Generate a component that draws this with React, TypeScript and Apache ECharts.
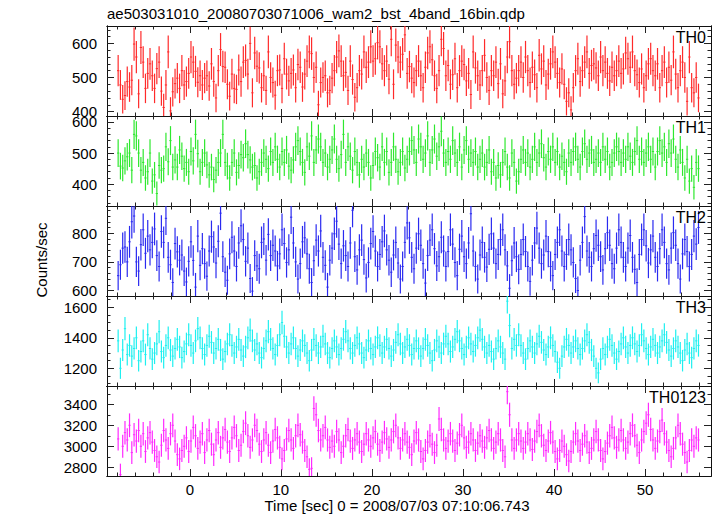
import { useEffect, useRef } from 'react';
import * as echarts from 'echarts';

const TITLE = 'ae503031010_20080703071006_wam2_bst_4band_16bin.qdp';
const X_LABEL = 'Time [sec] 0 = 2008/07/03 07:10:06.743';
const Y_LABEL = 'Counts/sec';

const T_START = -7.875;
const BIN = 0.25;
const X_MIN = -9.1;
const X_MAX = 57.25;
const X_MAJOR = [0, 10, 20, 30, 40, 50];
const X_MINOR = [-8, -6, -4, -2, 2, 4, 6, 8, 12, 14, 16, 18, 22, 24, 26, 28, 32, 34, 36, 38, 42, 44, 46, 48, 52, 54, 56];

const TH0 = [
  520, 478, 436, 447, 488, 472, 492, 598, 560, 452, 588, 545, 468, 512, 540, 505,
  468, 526, 545, 460, 412, 478, 575, 402, 458, 482, 498, 468, 520, 478, 488, 512,
  560, 545, 518, 486, 505, 478, 498, 505, 475, 540, 488, 440, 520, 582, 532, 530,
  480, 445, 510, 468, 465, 522, 488, 545, 550, 510, 600, 455, 572, 533, 528, 470,
  505, 462, 575, 500, 485, 448, 520, 522, 468, 555, 510, 490, 512, 522, 470, 538,
  530, 472, 510, 548, 575, 570, 500, 530, 420, 485, 500, 505, 455, 462, 498, 520,
  560, 578, 548, 505, 515, 462, 548, 494, 442, 470, 520, 510, 575, 530, 545, 590,
  548, 555, 602, 590, 540, 520, 548, 495, 612, 480, 595, 560, 545, 568, 625, 512,
  532, 498, 485, 520, 548, 505, 470, 530, 572, 590, 552, 505, 468, 520, 612, 585,
  505, 535, 480, 508, 555, 470, 520, 548, 538, 490, 512, 450, 575, 528, 505, 478,
  520, 565, 500, 462, 520, 505, 545, 482, 540, 452, 490, 560, 605, 520, 480, 498,
  520, 545, 500, 560, 520, 485, 530, 508, 470, 565, 525, 548, 478, 510, 540, 575,
  545, 512, 485, 525, 480, 430, 455, 405, 470, 520, 555, 488, 520, 545, 575, 512,
  535, 540, 528, 505, 560, 520, 545, 512, 490, 530, 505, 520, 548, 512, 525, 572,
  555, 530, 575, 520, 508, 485, 525, 470, 505, 540, 555, 520, 505, 540, 470, 520,
  545, 485, 530, 492, 575, 510, 470, 520, 545, 500, 430, 560, 470, 455, 500, 440,
];

const TH1 = [
  500, 458, 452, 475, 488, 500, 445, 560, 555, 500, 445, 470, 420, 440, 500, 410,
  430, 370, 460, 445, 450, 520, 472, 540, 455, 478, 455, 510, 490, 450, 470, 440,
  505, 475, 560, 498, 440, 470, 500, 462, 430, 455, 415, 445, 470, 500, 560, 470,
  458, 420, 470, 500, 438, 460, 495, 485, 530, 495, 478, 455, 460, 420, 440, 470,
  500, 480, 450, 505, 470, 520, 480, 455, 505, 470, 510, 458, 445, 478, 520, 540,
  505, 470, 438, 520, 490, 555, 470, 510, 545, 520, 470, 500, 455, 480, 510, 545,
  480, 450, 495, 560, 470, 520, 490, 445, 505, 470, 430, 480, 455, 500, 470, 420,
  460, 505, 485, 455, 520, 470, 505, 438, 470, 520, 480, 440, 470, 505, 452, 480,
  505, 540, 510, 470, 545, 520, 480, 500, 555, 470, 510, 545, 490, 520, 570, 500,
  470, 505, 480, 540, 500, 470, 520, 455, 510, 540, 480, 500, 470, 505, 455, 480,
  500, 455, 470, 510, 440, 470, 420, 460, 430, 470, 505, 455, 420, 500, 470, 410,
  440, 480, 510, 470, 500, 455, 480, 520, 470, 500, 530, 485, 455, 505, 480, 520,
  470, 505, 455, 490, 470, 440, 500, 470, 505, 520, 480, 455, 505, 530, 480, 500,
  510, 470, 480, 500, 470, 520, 480, 505, 455, 470, 500, 520, 505, 470, 500, 480,
  520, 490, 470, 505, 540, 480, 505, 470, 500, 520, 480, 505, 455, 505, 540, 500,
  520, 470, 530, 500, 545, 480, 455, 510, 470, 420, 480, 410, 450, 390, 470, 450,
];

const TH2 = [
  652, 690, 748, 752, 700, 770, 840, 860, 700, 668, 760, 812, 730, 790, 742, 768,
  815, 722, 684, 806, 768, 852, 716, 690, 628, 764, 735, 706, 724, 668, 630, 702,
  770, 705, 612, 790, 688, 746, 694, 650, 738, 788, 752, 696, 772, 870, 718, 664,
  636, 728, 786, 738, 684, 766, 826, 778, 702, 748, 642, 598, 722, 686, 676, 768,
  780, 706, 796, 722, 758, 738, 686, 728, 812, 764, 698, 742, 856, 766, 700, 640,
  694, 770, 784, 728, 676, 628, 704, 776, 738, 808, 716, 688, 612, 706, 748, 798,
  842, 762, 694, 756, 722, 684, 766, 880, 718, 672, 742, 776, 708, 644, 698, 764,
  806, 738, 684, 726, 770, 808, 742, 706, 664, 724, 768, 696, 640, 684, 768, 836,
  784, 716, 676, 748, 798, 758, 694, 626, 722, 776, 812, 746, 686, 718, 786, 738,
  684, 736, 812, 762, 698, 652, 744, 790, 718, 694, 766, 868, 738, 684, 640, 724,
  768, 716, 682, 744, 798, 748, 694, 726, 778, 812, 742, 686, 608, 704, 766, 718,
  674, 726, 778, 736, 684, 632, 706, 766, 818, 748, 694, 724, 790, 736, 684, 652,
  726, 768, 812, 738, 684, 726, 778, 742, 698, 642, 600, 706, 768, 858, 738, 716,
  684, 746, 792, 758, 718, 672, 746, 802, 758, 694, 676, 748, 812, 768, 716, 684,
  748, 792, 716, 674, 628, 726, 778, 812, 756, 696, 742, 790, 716, 684, 746, 812,
  768, 694, 672, 748, 802, 758, 694, 640, 728, 778, 736, 684, 726, 790, 762, 820,
];

const TH3 = [
  1380, 1200, 1320, 1460, 1290, 1350, 1280, 1330, 1400, 1250, 1310, 1380, 1290, 1420, 1330, 1260,
  1300, 1360, 1440, 1310, 1270, 1350, 1400, 1320, 1280, 1330, 1390, 1340, 1270, 1310, 1360, 1420,
  1350, 1300, 1380, 1460, 1400, 1330, 1290, 1350, 1410, 1370, 1300, 1330, 1390, 1320, 1260, 1310,
  1360, 1420, 1350, 1300, 1340, 1390, 1320, 1280, 1340, 1400, 1450, 1380, 1320, 1360, 1300, 1270,
  1330, 1380, 1440, 1390, 1330, 1290, 1350, 1420, 1500, 1410, 1340, 1300, 1360, 1400, 1330, 1280,
  1320, 1380, 1350, 1300, 1250, 1320, 1390, 1350, 1300, 1340, 1410, 1360, 1300, 1270, 1330, 1380,
  1340, 1290, 1330, 1390, 1440, 1380, 1330, 1300, 1350, 1400, 1360, 1300, 1270, 1320, 1380, 1330,
  1290, 1340, 1400, 1350, 1300, 1340, 1390, 1330, 1280, 1320, 1370, 1420, 1360, 1300, 1340, 1390,
  1350, 1290, 1330, 1380, 1330, 1280, 1330, 1390, 1350, 1300, 1250, 1320, 1380, 1340, 1300, 1360,
  1410, 1360, 1310, 1340, 1390, 1440, 1380, 1330, 1290, 1340, 1400, 1360, 1310, 1350, 1400, 1450,
  1390, 1340, 1300, 1350, 1310, 1260, 1330, 1380, 1340, 1300, 1260, 1640, 1480, 1330, 1390, 1350,
  1420, 1350, 1300, 1260, 1330, 1380, 1340, 1300, 1360, 1410, 1370, 1320, 1290, 1340, 1400, 1350,
  1310, 1240, 1200, 1280, 1340, 1390, 1350, 1300, 1340, 1380, 1330, 1290, 1330, 1380, 1420, 1370,
  1320, 1280, 1200, 1170, 1260, 1330, 1290, 1340, 1390, 1350, 1300, 1260, 1310, 1360, 1400, 1340,
  1300, 1350, 1400, 1360, 1310, 1350, 1420, 1380, 1330, 1290, 1340, 1390, 1350, 1300, 1340, 1380,
  1420, 1370, 1320, 1280, 1330, 1380, 1340, 1300, 1250, 1320, 1360, 1300, 1270, 1330, 1380, 1350,
];

const TH0123 = [
  3070, 2730, 3000, 3130, 3060, 3200, 2940, 3110, 3050, 3150, 3000, 3120, 2950, 3080, 3130, 3040,
  2960, 2900, 2850, 3010, 3150, 3060, 2980, 3120, 3200, 3050, 2920, 2880, 2960, 3000, 3080, 2950,
  3050, 3180, 3100, 2980, 3040, 3120, 2940, 3060, 3150, 3020, 2920, 3060, 3130, 2990, 3080, 3160,
  3040, 2950, 3080, 3180, 3100, 2960, 3010, 3140, 3220, 3100, 2990, 3060, 3200, 3150, 3020, 2950,
  3060, 3130, 3010, 2940, 3050, 3160, 3080, 2990, 2880, 2960, 3070, 3150, 3060, 2980, 3100, 3200,
  3110, 3040, 2960, 2900, 2780, 2790, 3360, 3300, 3150, 3060, 3100, 3180, 3060, 2990, 3050, 3000,
  3140, 3060, 2940, 3000, 3100, 3160, 3050, 2980, 3060, 3120, 3040, 2950, 3020, 3120, 3060, 3000,
  3080, 3140, 3020, 2960, 3040, 3130, 3070, 2990, 3060, 3140, 3200, 3080, 2980, 3060, 3120, 3040,
  2990, 2920, 3050, 3130, 3060, 2950, 2880, 2960, 3040, 3100, 3020, 2940, 3010, 3260, 3160, 3060,
  2980, 3050, 3120, 3050, 2960, 3030, 3110, 3200, 3080, 2990, 3040, 3120, 3060, 2960, 3030, 3100,
  3050, 2990, 3080, 3150, 3060, 2980, 3040, 3120, 3060, 2960, 2900, 3520, 3300, 3060, 2980, 3060,
  3120, 3050, 2980, 3040, 3120, 3060, 2970, 3050, 3140, 3200, 3100, 3010, 2960, 3050, 3130, 3040,
  2950, 2880, 2960, 3050, 3000, 2920, 2860, 2950, 3040, 3120, 3050, 2960, 3020, 3100, 3040, 2940,
  2980, 3060, 3140, 3060, 2960, 2880, 2950, 3030, 3100, 3180, 3080, 2990, 3060, 3150, 3060, 2980,
  3040, 3120, 3200, 3100, 3010, 2940, 3060, 3140, 3220, 3300, 3160, 3060, 2980, 3050, 3140, 3250,
  3120, 3040, 2960, 2900, 2980, 3080, 3200, 3120, 3020, 2940, 2850, 2960, 3060, 3000, 3080, 3060,
];

const PANEL_NAMES = ['TH0', 'TH1', 'TH2', 'TH3', 'TH0123'];
const PANEL_COLORS = ['#ff2a2a', '#2ee82e', '#2a2af0', '#1ef0f0', '#ff2aff'];
const PANEL_DATA = [TH0, TH1, TH2, TH3, TH0123];
const Y_MIN = [387, 330, 581, 1084, 2717];
const Y_MAX = [651, 619, 895, 1674, 3574];
const Y_MAJOR = [
  [400, 500, 600],
  [400, 500, 600],
  [600, 700, 800],
  [1200, 1400, 1600],
  [2800, 3000, 3200, 3400],
];
const Y_MINOR_STEP = [20, 20, 20, 50, 100];

const FONT = '"Liberation Sans", Arial, Helvetica, sans-serif';
const GRID_LEFT = 107;
const GRID_RIGHT = 6;
const GRID_TOP = 26;
const PANEL_H = 90;

function minorTicks(min: number, max: number, step: number, majors: number[]) {
  const out: number[] = [];
  for (let v = Math.ceil(min / step) * step; v <= max; v += step) {
    if (!majors.includes(v)) out.push(v);
  }
  return out;
}

export default function App() {
  const ref = useRef<HTMLDivElement>(null);
  useEffect(() => {
    if (!ref.current) return;
    const chart = echarts.init(ref.current, null, { renderer: 'svg' });
    const grid: any[] = [];
    const xAxis: any[] = [];
    const yAxis: any[] = [];
    const series: any[] = [];
    const graphic: any[] = [];
    const lineStyle = { color: '#111', width: 1 };
    const tickStyle = { color: '#222', width: 1 };
    const plain = (v: number) => String(v);

    PANEL_NAMES.forEach((name, g) => {
      const top = GRID_TOP + PANEL_H * g;
      grid.push({ left: GRID_LEFT, right: GRID_RIGHT, top, height: PANEL_H, containLabel: false });
      const xb = {
        type: 'value', gridIndex: g, min: X_MIN, max: X_MAX,
        splitLine: { show: false },
        axisLine: { show: true, onZero: false, lineStyle },
      };
      const isBottom = g === PANEL_NAMES.length - 1;
      xAxis.push({
        ...xb, position: 'bottom',
        axisTick: { show: true, inside: true, length: 7, customValues: X_MAJOR, lineStyle: tickStyle },
        axisLabel: {
          show: isBottom, customValues: X_MAJOR, margin: 6, formatter: plain,
          fontSize: 15, fontFamily: FONT, color: '#000',
        },
      });
      xAxis.push({
        ...xb, position: 'bottom',
        axisTick: { show: true, inside: true, length: 3.5, customValues: X_MINOR, lineStyle: tickStyle },
        axisLabel: { show: false },
      });
      xAxis.push({
        ...xb, position: 'top',
        axisTick: { show: true, inside: true, length: 7, customValues: X_MAJOR, lineStyle: tickStyle },
        axisLabel: { show: false },
      });
      xAxis.push({
        ...xb, position: 'top',
        axisTick: { show: true, inside: true, length: 3.5, customValues: X_MINOR, lineStyle: tickStyle },
        axisLabel: { show: false },
      });

      const yMin = Y_MIN[g];
      const yMax = Y_MAX[g];
      const majors = Y_MAJOR[g];
      const minors = minorTicks(yMin, yMax, Y_MINOR_STEP[g], majors);
      const yb = {
        type: 'value', gridIndex: g, min: yMin, max: yMax,
        splitLine: { show: false },
        axisLine: { show: true, onZero: false, lineStyle },
      };
      yAxis.push({
        ...yb, position: 'left',
        axisTick: { show: true, inside: true, length: 7, customValues: majors, lineStyle: tickStyle },
        axisLabel: {
          show: true, customValues: majors, margin: 10, formatter: plain,
          fontSize: 15, lineHeight: 10, fontFamily: FONT, color: '#000',
        },
      });
      yAxis.push({
        ...yb, position: 'left',
        axisTick: { show: true, inside: true, length: 3.5, customValues: minors, lineStyle: tickStyle },
        axisLabel: { show: false },
      });
      yAxis.push({
        ...yb, position: 'right',
        axisTick: { show: true, inside: true, length: 7, customValues: majors, lineStyle: tickStyle },
        axisLabel: { show: false },
      });
      yAxis.push({
        ...yb, position: 'right',
        axisTick: { show: true, inside: true, length: 3.5, customValues: minors, lineStyle: tickStyle },
        axisLabel: { show: false },
      });

      const color = PANEL_COLORS[g];
      const values = PANEL_DATA[g];
      const data = values.map((v, i) => [T_START + BIN * i, v, Math.sqrt(v / BIN)]);
      series.push({
        type: 'custom',
        name,
        xAxisIndex: 4 * g,
        yAxisIndex: 4 * g,
        clip: true,
        silent: true,
        encode: { x: 0, y: 1 },
        data,
        renderItem: (_params: any, api: any) => {
          const x = api.value(0);
          const y = api.value(1);
          const e = api.value(2);
          const a = api.coord([x - BIN / 2, y]);
          const b = api.coord([x + BIN / 2, y]);
          const c = api.coord([x, y - e]);
          const d = api.coord([x, y + e]);
          return {
            type: 'group',
            children: [
              { type: 'line', shape: { x1: c[0], y1: c[1], x2: d[0], y2: d[1] }, style: { stroke: color, lineWidth: 1.2 } },
              { type: 'line', shape: { x1: a[0], y1: a[1], x2: b[0], y2: b[1] }, style: { stroke: color, lineWidth: 1 } },
            ],
          };
        },
      });

      graphic.push({
        type: 'text',
        right: 11,
        top: top + 3,
        z: 100,
        style: { text: name, fontSize: 16, fontFamily: FONT, fill: '#000' },
      });
    });

    graphic.push({
      type: 'text', left: GRID_LEFT, top: 6,
      style: { text: TITLE, fontSize: 15, fontFamily: FONT, fill: '#000' },
    });
    graphic.push({
      type: 'text', x: 397, y: 505,
      style: { text: X_LABEL, fontSize: 15, fontFamily: FONT, fill: '#000', align: 'center', verticalAlign: 'middle' },
    });
    graphic.push({
      type: 'text', x: 41, y: 260, rotation: Math.PI / 2,
      style: { text: Y_LABEL, fontSize: 15, fontFamily: FONT, fill: '#000', align: 'center', verticalAlign: 'middle' },
    });

    chart.setOption({
      animation: false,
      backgroundColor: '#fff',
      grid,
      xAxis,
      yAxis,
      series,
      graphic,
    });
    return () => chart.dispose();
  }, []);
  return <div ref={ref} style={{ position: 'fixed', left: 0, top: 0, width: 717, height: 516 }} />;
}
